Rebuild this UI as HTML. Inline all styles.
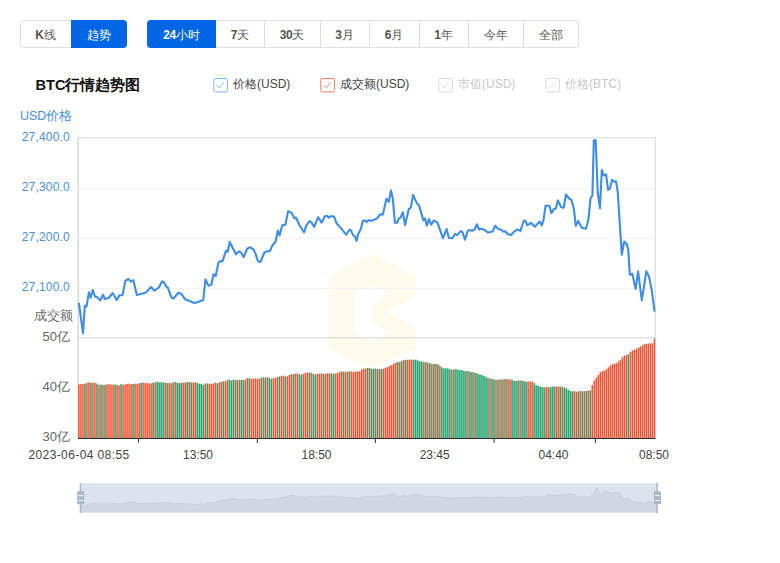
<!DOCTYPE html>
<html><head><meta charset="utf-8">
<style>
html,body{margin:0;padding:0;background:#fff;width:780px;height:563px;overflow:hidden;font-family:"Liberation Sans", sans-serif;}
.grp{position:absolute;top:20px;height:26px;border:1px solid #dcdfe6;border-radius:4px;box-sizing:content-box;}
.sep{position:absolute;top:21px;height:26px;width:1px;background:#dcdfe6;}
.btn{position:absolute;top:20px;height:28px;line-height:30px;text-align:center;font-size:12px;color:#555;font-weight:500;}
.btn b{font-weight:bold;letter-spacing:-0.4px;}
.btn.on{background:#0066e6;color:#fff;}
svg{position:absolute;left:0;top:0;}
</style></head><body>
<div class="grp" style="left:20px;width:105px;"></div>
<div class="grp" style="left:147px;width:430px;"></div>
<div class="sep" style="left:264px;"></div>
<div class="sep" style="left:320px;"></div>
<div class="sep" style="left:369px;"></div>
<div class="sep" style="left:419px;"></div>
<div class="sep" style="left:468px;"></div>
<div class="sep" style="left:523px;"></div>
<div class="btn on" style="left:71px;width:56px;border-radius:0 4px 4px 0;">趋势</div>
<div class="btn on" style="left:147px;width:69px;border-radius:4px 0 0 4px;"><b>24</b>小时</div>
<div class="btn" style="left:20px;width:51px;"><b>K</b>线</div>
<div class="btn" style="left:216px;width:48px;"><b>7</b>天</div>
<div class="btn" style="left:264px;width:56px;"><b>30</b>天</div>
<div class="btn" style="left:320px;width:49px;"><b>3</b>月</div>
<div class="btn" style="left:369px;width:50px;"><b>6</b>月</div>
<div class="btn" style="left:419px;width:49px;"><b>1</b>年</div>
<div class="btn" style="left:468px;width:55px;">今年</div>
<div class="btn" style="left:523px;width:56px;">全部</div>
<svg width="780" height="563" viewBox="0 0 780 563" style="font-family:"Liberation Sans", sans-serif;">
  <text x="35.5" y="90" font-size="14.6" font-weight="bold" fill="#111">BTC行情趋势图</text>
  <!-- legend -->
  <rect x="213.8" y="78.5" width="13.6" height="13.4" rx="1.5" fill="#fff" stroke="#7fb6ee"/>
  <path d="M216.5 85 L219.3 87.8 L223.8 82.5" fill="none" stroke="#7fb6ee" stroke-width="1"/>
  <text x="233" y="88" font-size="12" fill="#444">价格(USD)</text>
  <rect x="320.8" y="78.5" width="13.6" height="13.4" rx="1.5" fill="#fff" stroke="#f07d65"/>
  <path d="M323.5 85 L326.3 87.8 L330.8 82.5" fill="none" stroke="#f07d65" stroke-width="1"/>
  <text x="340" y="88" font-size="12" fill="#444">成交额(USD)</text>
  <rect x="438.8" y="78.5" width="13.6" height="13.4" rx="1.5" fill="#fff" stroke="#d9d9d9"/>
  <path d="M441.5 85 L444.3 87.8 L448.8 82.5" fill="none" stroke="#d9d9d9" stroke-width="1"/>
  <text x="458" y="88" font-size="12" fill="#c8c8c8">市值(USD)</text>
  <rect x="545.8" y="78.5" width="13.6" height="13.4" rx="1.5" fill="#fff" stroke="#d9d9d9"/>
  <path d="M548.5 85 L551.3 87.8 L555.8 82.5" fill="none" stroke="#d9d9d9" stroke-width="1"/>
  <text x="565" y="88" font-size="12" fill="#c8c8c8">价格(BTC)</text>

  <text x="20" y="120" font-size="12.5" fill="#4a90e2">USD价格</text>
  <g font-size="12" fill="#4a90e2" text-anchor="end" letter-spacing="0.2">
    <text x="70" y="141">27,400.0</text>
    <text x="70" y="191">27,300.0</text>
    <text x="70" y="241">27,200.0</text>
    <text x="70" y="291">27,100.0</text>
  </g>
  <text x="73" y="320" font-size="13" fill="#666" text-anchor="end">成交额</text>
  <g font-size="13" fill="#666" text-anchor="end">
    <text x="70" y="341">50亿</text>
    <text x="70" y="391">40亿</text>
    <text x="70" y="441">30亿</text>
  </g>
  <!-- watermark -->
  <polygon points="371.8,252.8 415.8,277.7 415.8,348.2 371.8,368 327.7,348.2 327.7,277.7" fill="#fefbec"/>
  <polygon points="354.3,293.4 371.3,284.2 389,293.4 372,304.1 372,321 389,332.5 371.3,341.5 354.3,332.5" fill="#fff"/>
  <polygon points="416.5,294.8 387,311.8 416.5,328.9" fill="#fff"/>
  <!-- grid -->
  <g stroke="#f2f2f2" stroke-width="1">
    <line x1="78" y1="188.5" x2="655" y2="188.5"/>
    <line x1="78" y1="238.5" x2="655" y2="238.5"/>
    <line x1="78" y1="288.5" x2="655" y2="288.5"/>
  </g>
  <line x1="78" y1="137.8" x2="656" y2="137.8" stroke="#e6e6e6" stroke-width="1.4"/>
  <line x1="655.3" y1="137" x2="655.3" y2="438" stroke="#e2e2e2" stroke-width="1.4"/>
  <line x1="78" y1="337.8" x2="655" y2="337.8" stroke="#e0e0e0" stroke-width="1.4"/>
  <line x1="78.2" y1="137" x2="78.2" y2="438" stroke="#d8d8d8" stroke-width="1.5"/>
  <rect x="78.15" y="384.39" width="1.56" height="53.61" fill="#f25535"/><rect x="80.16" y="383.98" width="1.56" height="54.02" fill="#f25535"/><rect x="82.16" y="383.85" width="1.56" height="54.15" fill="#f25535"/><rect x="84.17" y="383.67" width="1.56" height="54.33" fill="#22a46e"/><rect x="86.17" y="382.79" width="1.56" height="55.21" fill="#f25535"/><rect x="88.18" y="382.36" width="1.56" height="55.64" fill="#f25535"/><rect x="90.18" y="382.71" width="1.56" height="55.29" fill="#22a46e"/><rect x="92.19" y="382.90" width="1.56" height="55.10" fill="#f25535"/><rect x="94.19" y="382.84" width="1.56" height="55.16" fill="#f25535"/><rect x="96.20" y="383.59" width="1.56" height="54.41" fill="#22a46e"/><rect x="98.20" y="384.88" width="1.56" height="53.12" fill="#f25535"/><rect x="100.21" y="384.55" width="1.56" height="53.45" fill="#22a46e"/><rect x="102.21" y="384.90" width="1.56" height="53.10" fill="#f25535"/><rect x="104.22" y="384.71" width="1.56" height="53.29" fill="#22a46e"/><rect x="106.22" y="384.51" width="1.56" height="53.49" fill="#f25535"/><rect x="108.23" y="384.12" width="1.56" height="53.88" fill="#f25535"/><rect x="110.23" y="384.51" width="1.56" height="53.49" fill="#f25535"/><rect x="112.24" y="384.69" width="1.56" height="53.31" fill="#f25535"/><rect x="114.24" y="384.42" width="1.56" height="53.58" fill="#22a46e"/><rect x="116.25" y="384.98" width="1.56" height="53.02" fill="#f25535"/><rect x="118.25" y="385.24" width="1.56" height="52.76" fill="#f25535"/><rect x="120.26" y="384.20" width="1.56" height="53.80" fill="#22a46e"/><rect x="122.26" y="384.75" width="1.56" height="53.25" fill="#f25535"/><rect x="124.27" y="384.47" width="1.56" height="53.53" fill="#f25535"/><rect x="126.28" y="383.84" width="1.56" height="54.16" fill="#f25535"/><rect x="128.28" y="383.62" width="1.56" height="54.38" fill="#f25535"/><rect x="130.29" y="384.29" width="1.56" height="53.71" fill="#f25535"/><rect x="132.29" y="383.98" width="1.56" height="54.02" fill="#22a46e"/><rect x="134.30" y="383.66" width="1.56" height="54.34" fill="#f25535"/><rect x="136.30" y="383.81" width="1.56" height="54.19" fill="#f25535"/><rect x="138.31" y="383.28" width="1.56" height="54.72" fill="#f25535"/><rect x="140.31" y="382.94" width="1.56" height="55.06" fill="#22a46e"/><rect x="142.32" y="382.52" width="1.56" height="55.48" fill="#f25535"/><rect x="144.32" y="383.13" width="1.56" height="54.87" fill="#f25535"/><rect x="146.33" y="383.06" width="1.56" height="54.94" fill="#f25535"/><rect x="148.33" y="383.45" width="1.56" height="54.55" fill="#f25535"/><rect x="150.34" y="383.40" width="1.56" height="54.60" fill="#f25535"/><rect x="152.34" y="382.78" width="1.56" height="55.22" fill="#22a46e"/><rect x="154.35" y="382.33" width="1.56" height="55.67" fill="#f25535"/><rect x="156.35" y="381.59" width="1.56" height="56.41" fill="#22a46e"/><rect x="158.36" y="382.36" width="1.56" height="55.64" fill="#22a46e"/><rect x="160.36" y="382.25" width="1.56" height="55.75" fill="#22a46e"/><rect x="162.37" y="382.40" width="1.56" height="55.60" fill="#22a46e"/><rect x="164.37" y="382.63" width="1.56" height="55.37" fill="#f25535"/><rect x="166.38" y="383.11" width="1.56" height="54.89" fill="#22a46e"/><rect x="168.38" y="383.01" width="1.56" height="54.99" fill="#f25535"/><rect x="170.39" y="383.42" width="1.56" height="54.58" fill="#f25535"/><rect x="172.39" y="382.37" width="1.56" height="55.63" fill="#22a46e"/><rect x="174.40" y="381.87" width="1.56" height="56.13" fill="#f25535"/><rect x="176.41" y="382.77" width="1.56" height="55.23" fill="#22a46e"/><rect x="178.41" y="383.11" width="1.56" height="54.89" fill="#22a46e"/><rect x="180.42" y="382.99" width="1.56" height="55.01" fill="#22a46e"/><rect x="182.42" y="382.63" width="1.56" height="55.37" fill="#f25535"/><rect x="184.43" y="382.43" width="1.56" height="55.57" fill="#f25535"/><rect x="186.43" y="382.27" width="1.56" height="55.73" fill="#22a46e"/><rect x="188.44" y="382.02" width="1.56" height="55.98" fill="#f25535"/><rect x="190.44" y="382.50" width="1.56" height="55.50" fill="#22a46e"/><rect x="192.45" y="382.49" width="1.56" height="55.51" fill="#f25535"/><rect x="194.45" y="382.35" width="1.56" height="55.65" fill="#f25535"/><rect x="196.46" y="382.69" width="1.56" height="55.31" fill="#22a46e"/><rect x="198.46" y="383.65" width="1.56" height="54.35" fill="#22a46e"/><rect x="200.47" y="383.77" width="1.56" height="54.23" fill="#22a46e"/><rect x="202.47" y="384.73" width="1.56" height="53.27" fill="#22a46e"/><rect x="204.48" y="383.46" width="1.56" height="54.54" fill="#f25535"/><rect x="206.48" y="383.44" width="1.56" height="54.56" fill="#22a46e"/><rect x="208.49" y="383.66" width="1.56" height="54.34" fill="#f25535"/><rect x="210.49" y="383.78" width="1.56" height="54.22" fill="#f25535"/><rect x="212.50" y="383.56" width="1.56" height="54.44" fill="#f25535"/><rect x="214.50" y="382.76" width="1.56" height="55.24" fill="#f25535"/><rect x="216.51" y="383.25" width="1.56" height="54.75" fill="#22a46e"/><rect x="218.51" y="382.46" width="1.56" height="55.54" fill="#f25535"/><rect x="220.52" y="381.73" width="1.56" height="56.27" fill="#f25535"/><rect x="222.53" y="381.33" width="1.56" height="56.67" fill="#22a46e"/><rect x="224.53" y="381.17" width="1.56" height="56.83" fill="#f25535"/><rect x="226.54" y="380.05" width="1.56" height="57.95" fill="#f25535"/><rect x="228.54" y="379.50" width="1.56" height="58.50" fill="#22a46e"/><rect x="230.55" y="380.42" width="1.56" height="57.58" fill="#22a46e"/><rect x="232.55" y="379.59" width="1.56" height="58.41" fill="#22a46e"/><rect x="234.56" y="379.60" width="1.56" height="58.40" fill="#f25535"/><rect x="236.56" y="380.18" width="1.56" height="57.82" fill="#22a46e"/><rect x="238.57" y="379.84" width="1.56" height="58.16" fill="#f25535"/><rect x="240.57" y="379.93" width="1.56" height="58.07" fill="#22a46e"/><rect x="242.58" y="380.02" width="1.56" height="57.98" fill="#22a46e"/><rect x="244.58" y="379.64" width="1.56" height="58.36" fill="#f25535"/><rect x="246.59" y="378.08" width="1.56" height="59.92" fill="#f25535"/><rect x="248.59" y="378.13" width="1.56" height="59.87" fill="#22a46e"/><rect x="250.60" y="378.88" width="1.56" height="59.12" fill="#f25535"/><rect x="252.60" y="378.43" width="1.56" height="59.57" fill="#f25535"/><rect x="254.61" y="378.56" width="1.56" height="59.44" fill="#f25535"/><rect x="256.61" y="378.73" width="1.56" height="59.27" fill="#f25535"/><rect x="258.62" y="378.63" width="1.56" height="59.37" fill="#f25535"/><rect x="260.62" y="377.73" width="1.56" height="60.27" fill="#22a46e"/><rect x="262.63" y="377.24" width="1.56" height="60.76" fill="#f25535"/><rect x="264.63" y="377.58" width="1.56" height="60.42" fill="#22a46e"/><rect x="266.64" y="377.09" width="1.56" height="60.91" fill="#f25535"/><rect x="268.64" y="377.84" width="1.56" height="60.16" fill="#22a46e"/><rect x="270.65" y="378.69" width="1.56" height="59.31" fill="#22a46e"/><rect x="272.66" y="378.18" width="1.56" height="59.82" fill="#f25535"/><rect x="274.66" y="377.83" width="1.56" height="60.17" fill="#f25535"/><rect x="276.67" y="376.96" width="1.56" height="61.04" fill="#f25535"/><rect x="278.67" y="376.39" width="1.56" height="61.61" fill="#22a46e"/><rect x="280.68" y="375.96" width="1.56" height="62.04" fill="#f25535"/><rect x="282.68" y="375.56" width="1.56" height="62.44" fill="#f25535"/><rect x="284.69" y="376.41" width="1.56" height="61.59" fill="#22a46e"/><rect x="286.69" y="376.17" width="1.56" height="61.83" fill="#f25535"/><rect x="288.70" y="375.02" width="1.56" height="62.98" fill="#f25535"/><rect x="290.70" y="374.27" width="1.56" height="63.73" fill="#f25535"/><rect x="292.71" y="374.09" width="1.56" height="63.91" fill="#22a46e"/><rect x="294.71" y="373.55" width="1.56" height="64.45" fill="#f25535"/><rect x="296.72" y="373.44" width="1.56" height="64.56" fill="#f25535"/><rect x="298.72" y="374.44" width="1.56" height="63.56" fill="#22a46e"/><rect x="300.73" y="374.49" width="1.56" height="63.51" fill="#22a46e"/><rect x="302.73" y="373.83" width="1.56" height="64.17" fill="#f25535"/><rect x="304.74" y="372.73" width="1.56" height="65.27" fill="#f25535"/><rect x="306.74" y="372.49" width="1.56" height="65.51" fill="#f25535"/><rect x="308.75" y="372.71" width="1.56" height="65.29" fill="#22a46e"/><rect x="310.75" y="372.89" width="1.56" height="65.11" fill="#f25535"/><rect x="312.76" y="373.98" width="1.56" height="64.02" fill="#22a46e"/><rect x="314.76" y="374.60" width="1.56" height="63.40" fill="#22a46e"/><rect x="316.77" y="373.67" width="1.56" height="64.33" fill="#f25535"/><rect x="318.77" y="373.65" width="1.56" height="64.35" fill="#f25535"/><rect x="320.78" y="373.44" width="1.56" height="64.56" fill="#f25535"/><rect x="322.79" y="373.97" width="1.56" height="64.03" fill="#22a46e"/><rect x="324.79" y="373.61" width="1.56" height="64.39" fill="#f25535"/><rect x="326.80" y="373.36" width="1.56" height="64.64" fill="#f25535"/><rect x="328.80" y="373.49" width="1.56" height="64.51" fill="#f25535"/><rect x="330.81" y="373.38" width="1.56" height="64.62" fill="#22a46e"/><rect x="332.81" y="373.79" width="1.56" height="64.21" fill="#22a46e"/><rect x="334.82" y="373.51" width="1.56" height="64.49" fill="#f25535"/><rect x="336.82" y="373.00" width="1.56" height="65.00" fill="#f25535"/><rect x="338.83" y="371.92" width="1.56" height="66.08" fill="#f25535"/><rect x="340.83" y="371.57" width="1.56" height="66.43" fill="#f25535"/><rect x="342.84" y="371.66" width="1.56" height="66.34" fill="#22a46e"/><rect x="344.84" y="371.75" width="1.56" height="66.25" fill="#f25535"/><rect x="346.85" y="371.58" width="1.56" height="66.42" fill="#f25535"/><rect x="348.85" y="371.34" width="1.56" height="66.66" fill="#22a46e"/><rect x="350.86" y="371.63" width="1.56" height="66.37" fill="#f25535"/><rect x="352.86" y="372.04" width="1.56" height="65.96" fill="#f25535"/><rect x="354.87" y="371.58" width="1.56" height="66.42" fill="#f25535"/><rect x="356.87" y="371.33" width="1.56" height="66.67" fill="#f25535"/><rect x="358.88" y="371.34" width="1.56" height="66.66" fill="#f25535"/><rect x="360.88" y="369.53" width="1.56" height="68.47" fill="#f25535"/><rect x="362.89" y="368.72" width="1.56" height="69.28" fill="#f25535"/><rect x="364.89" y="368.50" width="1.56" height="69.50" fill="#f25535"/><rect x="366.90" y="368.03" width="1.56" height="69.97" fill="#22a46e"/><rect x="368.91" y="368.15" width="1.56" height="69.85" fill="#f25535"/><rect x="370.91" y="368.81" width="1.56" height="69.19" fill="#22a46e"/><rect x="372.92" y="368.54" width="1.56" height="69.46" fill="#22a46e"/><rect x="374.92" y="368.69" width="1.56" height="69.31" fill="#f25535"/><rect x="376.93" y="368.99" width="1.56" height="69.01" fill="#22a46e"/><rect x="378.93" y="369.26" width="1.56" height="68.74" fill="#f25535"/><rect x="380.94" y="368.85" width="1.56" height="69.15" fill="#22a46e"/><rect x="382.94" y="368.60" width="1.56" height="69.40" fill="#f25535"/><rect x="384.95" y="367.66" width="1.56" height="70.34" fill="#f25535"/><rect x="386.95" y="367.04" width="1.56" height="70.96" fill="#f25535"/><rect x="388.96" y="365.70" width="1.56" height="72.30" fill="#f25535"/><rect x="390.96" y="365.04" width="1.56" height="72.96" fill="#f25535"/><rect x="392.97" y="363.52" width="1.56" height="74.48" fill="#f25535"/><rect x="394.97" y="362.66" width="1.56" height="75.34" fill="#f25535"/><rect x="396.98" y="362.12" width="1.56" height="75.88" fill="#22a46e"/><rect x="398.98" y="361.84" width="1.56" height="76.16" fill="#f25535"/><rect x="400.99" y="360.90" width="1.56" height="77.10" fill="#22a46e"/><rect x="402.99" y="360.04" width="1.56" height="77.96" fill="#f25535"/><rect x="405.00" y="359.70" width="1.56" height="78.30" fill="#22a46e"/><rect x="407.00" y="360.02" width="1.56" height="77.98" fill="#f25535"/><rect x="409.01" y="359.51" width="1.56" height="78.49" fill="#f25535"/><rect x="411.01" y="359.65" width="1.56" height="78.35" fill="#f25535"/><rect x="413.02" y="359.69" width="1.56" height="78.31" fill="#22a46e"/><rect x="415.02" y="359.67" width="1.56" height="78.33" fill="#22a46e"/><rect x="417.03" y="360.43" width="1.56" height="77.57" fill="#22a46e"/><rect x="419.04" y="361.33" width="1.56" height="76.67" fill="#22a46e"/><rect x="421.04" y="361.50" width="1.56" height="76.50" fill="#22a46e"/><rect x="423.05" y="362.05" width="1.56" height="75.95" fill="#f25535"/><rect x="425.05" y="362.16" width="1.56" height="75.84" fill="#22a46e"/><rect x="427.06" y="362.53" width="1.56" height="75.47" fill="#f25535"/><rect x="429.06" y="363.22" width="1.56" height="74.78" fill="#22a46e"/><rect x="431.07" y="363.99" width="1.56" height="74.01" fill="#f25535"/><rect x="433.07" y="363.89" width="1.56" height="74.11" fill="#22a46e"/><rect x="435.08" y="364.08" width="1.56" height="73.92" fill="#f25535"/><rect x="437.08" y="364.26" width="1.56" height="73.74" fill="#22a46e"/><rect x="439.09" y="365.76" width="1.56" height="72.24" fill="#f25535"/><rect x="441.09" y="367.31" width="1.56" height="70.69" fill="#22a46e"/><rect x="443.10" y="368.39" width="1.56" height="69.61" fill="#22a46e"/><rect x="445.10" y="368.17" width="1.56" height="69.83" fill="#22a46e"/><rect x="447.11" y="368.36" width="1.56" height="69.64" fill="#22a46e"/><rect x="449.11" y="369.37" width="1.56" height="68.63" fill="#22a46e"/><rect x="451.12" y="369.37" width="1.56" height="68.63" fill="#f25535"/><rect x="453.12" y="369.51" width="1.56" height="68.49" fill="#22a46e"/><rect x="455.13" y="369.12" width="1.56" height="68.88" fill="#22a46e"/><rect x="457.13" y="369.73" width="1.56" height="68.27" fill="#22a46e"/><rect x="459.14" y="370.14" width="1.56" height="67.86" fill="#22a46e"/><rect x="461.14" y="370.01" width="1.56" height="67.99" fill="#22a46e"/><rect x="463.15" y="370.80" width="1.56" height="67.20" fill="#22a46e"/><rect x="465.16" y="371.22" width="1.56" height="66.78" fill="#22a46e"/><rect x="467.16" y="370.94" width="1.56" height="67.06" fill="#f25535"/><rect x="469.17" y="371.75" width="1.56" height="66.25" fill="#22a46e"/><rect x="471.17" y="371.98" width="1.56" height="66.02" fill="#22a46e"/><rect x="473.18" y="372.23" width="1.56" height="65.77" fill="#f25535"/><rect x="475.18" y="372.94" width="1.56" height="65.06" fill="#22a46e"/><rect x="477.19" y="373.73" width="1.56" height="64.27" fill="#22a46e"/><rect x="479.19" y="374.72" width="1.56" height="63.28" fill="#22a46e"/><rect x="481.20" y="374.99" width="1.56" height="63.01" fill="#22a46e"/><rect x="483.20" y="376.14" width="1.56" height="61.86" fill="#22a46e"/><rect x="485.21" y="376.75" width="1.56" height="61.25" fill="#22a46e"/><rect x="487.21" y="378.24" width="1.56" height="59.76" fill="#22a46e"/><rect x="489.22" y="378.34" width="1.56" height="59.66" fill="#f25535"/><rect x="491.22" y="378.80" width="1.56" height="59.20" fill="#22a46e"/><rect x="493.23" y="379.35" width="1.56" height="58.65" fill="#22a46e"/><rect x="495.23" y="379.98" width="1.56" height="58.02" fill="#f25535"/><rect x="497.24" y="379.76" width="1.56" height="58.24" fill="#22a46e"/><rect x="499.24" y="379.31" width="1.56" height="58.69" fill="#f25535"/><rect x="501.25" y="379.77" width="1.56" height="58.23" fill="#22a46e"/><rect x="503.25" y="379.01" width="1.56" height="58.99" fill="#f25535"/><rect x="505.26" y="378.98" width="1.56" height="59.02" fill="#22a46e"/><rect x="507.26" y="379.37" width="1.56" height="58.63" fill="#f25535"/><rect x="509.27" y="379.35" width="1.56" height="58.65" fill="#f25535"/><rect x="511.28" y="379.55" width="1.56" height="58.45" fill="#22a46e"/><rect x="513.28" y="380.82" width="1.56" height="57.18" fill="#22a46e"/><rect x="515.29" y="381.02" width="1.56" height="56.98" fill="#22a46e"/><rect x="517.29" y="380.62" width="1.56" height="57.38" fill="#22a46e"/><rect x="519.30" y="380.36" width="1.56" height="57.64" fill="#f25535"/><rect x="521.30" y="380.78" width="1.56" height="57.22" fill="#22a46e"/><rect x="523.31" y="380.97" width="1.56" height="57.03" fill="#22a46e"/><rect x="525.31" y="381.72" width="1.56" height="56.28" fill="#22a46e"/><rect x="527.32" y="381.58" width="1.56" height="56.42" fill="#f25535"/><rect x="529.32" y="381.46" width="1.56" height="56.54" fill="#f25535"/><rect x="531.33" y="381.36" width="1.56" height="56.64" fill="#f25535"/><rect x="533.33" y="382.86" width="1.56" height="55.14" fill="#22a46e"/><rect x="535.34" y="384.89" width="1.56" height="53.11" fill="#22a46e"/><rect x="537.34" y="385.97" width="1.56" height="52.03" fill="#22a46e"/><rect x="539.35" y="386.63" width="1.56" height="51.37" fill="#22a46e"/><rect x="541.35" y="387.01" width="1.56" height="50.99" fill="#22a46e"/><rect x="543.36" y="387.50" width="1.56" height="50.50" fill="#22a46e"/><rect x="545.36" y="386.90" width="1.56" height="51.10" fill="#f25535"/><rect x="547.37" y="387.24" width="1.56" height="50.76" fill="#f25535"/><rect x="549.37" y="387.28" width="1.56" height="50.72" fill="#22a46e"/><rect x="551.38" y="386.50" width="1.56" height="51.50" fill="#22a46e"/><rect x="553.38" y="386.54" width="1.56" height="51.46" fill="#22a46e"/><rect x="555.39" y="386.41" width="1.56" height="51.59" fill="#f25535"/><rect x="557.39" y="386.56" width="1.56" height="51.44" fill="#f25535"/><rect x="559.40" y="386.61" width="1.56" height="51.39" fill="#22a46e"/><rect x="561.41" y="386.78" width="1.56" height="51.22" fill="#f25535"/><rect x="563.41" y="387.43" width="1.56" height="50.57" fill="#22a46e"/><rect x="565.42" y="388.15" width="1.56" height="49.85" fill="#22a46e"/><rect x="567.42" y="389.48" width="1.56" height="48.52" fill="#22a46e"/><rect x="569.43" y="390.69" width="1.56" height="47.31" fill="#22a46e"/><rect x="571.43" y="391.34" width="1.56" height="46.66" fill="#22a46e"/><rect x="573.44" y="391.14" width="1.56" height="46.86" fill="#f25535"/><rect x="575.44" y="391.74" width="1.56" height="46.26" fill="#f25535"/><rect x="577.45" y="391.57" width="1.56" height="46.43" fill="#22a46e"/><rect x="579.45" y="390.88" width="1.56" height="47.12" fill="#f25535"/><rect x="581.46" y="391.27" width="1.56" height="46.73" fill="#22a46e"/><rect x="583.46" y="391.20" width="1.56" height="46.80" fill="#f25535"/><rect x="585.47" y="391.07" width="1.56" height="46.93" fill="#22a46e"/><rect x="587.47" y="390.60" width="1.56" height="47.40" fill="#f25535"/><rect x="589.48" y="390.33" width="1.56" height="47.67" fill="#22a46e"/><rect x="591.48" y="385.03" width="1.56" height="52.97" fill="#f25535"/><rect x="593.49" y="380.48" width="1.56" height="57.52" fill="#f25535"/><rect x="595.49" y="377.53" width="1.56" height="60.47" fill="#f25535"/><rect x="597.50" y="374.92" width="1.56" height="63.08" fill="#f25535"/><rect x="599.50" y="372.06" width="1.56" height="65.94" fill="#f25535"/><rect x="601.51" y="371.13" width="1.56" height="66.87" fill="#f25535"/><rect x="603.51" y="370.64" width="1.56" height="67.36" fill="#f25535"/><rect x="605.52" y="369.19" width="1.56" height="68.81" fill="#f25535"/><rect x="607.52" y="367.47" width="1.56" height="70.53" fill="#f25535"/><rect x="609.53" y="365.42" width="1.56" height="72.58" fill="#f25535"/><rect x="611.54" y="364.24" width="1.56" height="73.76" fill="#f25535"/><rect x="613.54" y="363.75" width="1.56" height="74.25" fill="#f25535"/><rect x="615.55" y="363.23" width="1.56" height="74.77" fill="#f25535"/><rect x="617.55" y="361.36" width="1.56" height="76.64" fill="#f25535"/><rect x="619.56" y="360.10" width="1.56" height="77.90" fill="#f25535"/><rect x="621.56" y="357.32" width="1.56" height="80.68" fill="#f25535"/><rect x="623.57" y="355.56" width="1.56" height="82.44" fill="#f25535"/><rect x="625.57" y="355.11" width="1.56" height="82.89" fill="#f25535"/><rect x="627.58" y="354.31" width="1.56" height="83.69" fill="#22a46e"/><rect x="629.58" y="352.09" width="1.56" height="85.91" fill="#f25535"/><rect x="631.59" y="350.49" width="1.56" height="87.51" fill="#f25535"/><rect x="633.59" y="349.73" width="1.56" height="88.27" fill="#f25535"/><rect x="635.60" y="348.75" width="1.56" height="89.25" fill="#f25535"/><rect x="637.60" y="347.71" width="1.56" height="90.29" fill="#f25535"/><rect x="639.61" y="346.46" width="1.56" height="91.54" fill="#f25535"/><rect x="641.61" y="345.31" width="1.56" height="92.69" fill="#f25535"/><rect x="643.62" y="344.20" width="1.56" height="93.80" fill="#f25535"/><rect x="645.62" y="343.86" width="1.56" height="94.14" fill="#f25535"/><rect x="647.63" y="343.46" width="1.56" height="94.54" fill="#f25535"/><rect x="649.63" y="343.55" width="1.56" height="94.45" fill="#f25535"/><rect x="651.64" y="343.35" width="1.56" height="94.65" fill="#f25535"/><rect x="653.64" y="338.50" width="1.56" height="99.50" fill="#f25535"/>
  <line x1="78" y1="438.5" x2="655.5" y2="438.5" stroke="#2a2a2a" stroke-width="1"/>
  <g stroke="#333" stroke-width="1">
    <line x1="138.5" y1="438" x2="138.5" y2="442.6"/>
    <line x1="257.3" y1="438" x2="257.3" y2="443"/>
    <line x1="375.4" y1="438" x2="375.4" y2="443"/>
    <line x1="494.1" y1="438" x2="494.1" y2="443"/>
    <line x1="595.4" y1="438" x2="595.4" y2="443"/>
  </g>
  <polyline points="78.9,303.0 83.0,333.3 84.8,305.7 86.5,306.6 88.9,292.4 90.6,297.7 92.8,290.0 94.9,296.5 97.2,297.2 100.2,300.4 103.0,294.7 104.8,299.0 108.7,298.0 112.7,293.0 116.7,300.0 119.4,295.4 122.6,295.0 125.3,280.9 128.3,279.0 131.0,281.7 133.3,280.0 136.8,295.0 142.5,293.6 146.0,292.4 151.0,287.0 154.4,290.7 158.9,287.5 162.1,281.3 163.9,282.2 166.3,286.6 167.8,287.5 171.3,297.3 173.4,298.5 178.4,292.8 181.1,293.7 185.5,299.6 189.1,300.8 194.4,303.0 198.0,302.0 203.3,300.0 205.4,279.5 208.6,285.7 211.3,284.8 213.6,274.2 215.7,276.0 218.4,262.6 221.0,260.9 222.5,261.4 226.0,250.6 227.7,251.8 229.8,241.9 233.0,248.6 236.0,254.3 239.2,251.3 241.3,253.0 243.7,257.1 247.2,248.6 249.9,247.2 253.4,249.5 255.6,253.9 257.9,261.0 260.5,262.0 264.1,253.0 266.7,251.3 269.8,251.3 272.1,246.0 275.6,241.5 277.9,230.5 279.7,235.3 282.2,225.2 285.4,224.6 288.1,211.3 291.6,212.7 294.3,218.4 296.0,217.5 299.6,225.5 304.0,232.3 306.4,225.2 309.7,221.2 311.4,222.3 314.2,226.9 318.2,217.2 321.6,222.6 324.9,216.2 327.0,215.8 328.4,217.6 330.5,216.2 334.1,216.6 336.6,223.3 340.5,227.6 346.2,234.7 349.4,229.7 350.9,230.4 353.3,235.4 354.7,236.1 356.5,240.8 358.2,234.0 360.8,229.0 362.8,220.9 365.3,220.5 366.8,221.9 368.9,220.0 371.0,220.9 373.9,219.8 376.7,218.6 377.1,218.3 380.0,214.3 382.8,214.7 386.4,198.7 388.8,202.0 390.9,190.6 392.8,198.4 394.9,222.8 397.0,222.8 399.1,218.3 400.6,217.6 402.7,212.3 405.1,225.1 408.8,209.1 410.8,207.6 413.1,194.9 416.9,203.4 419.0,205.2 423.3,220.4 425.0,218.3 426.8,225.7 429.0,219.0 431.1,224.7 434.0,220.4 437.5,222.6 442.9,238.2 446.7,229.0 448.9,237.9 452.4,238.2 455.0,234.0 457.1,235.1 460.7,231.1 462.5,232.3 464.9,239.7 467.8,230.9 469.9,230.0 472.0,230.9 474.9,229.0 477.0,224.3 479.1,229.7 481.3,228.6 484.8,230.0 488.1,232.6 492.6,231.4 495.2,225.7 498.3,229.0 501.1,229.7 503.7,231.8 505.1,231.1 507.5,234.0 511.1,235.1 513.9,231.8 517.5,229.4 520.3,230.9 523.9,220.5 525.6,221.2 527.3,225.4 530.9,222.8 534.8,226.7 539.7,221.5 541.6,225.4 543.6,219.9 545.5,205.8 549.4,205.8 551.4,213.1 553.9,209.1 555.9,208.6 557.8,200.4 561.2,207.2 563.7,207.8 566.0,194.5 569.0,198.4 571.5,200.0 573.9,209.1 575.8,225.8 578.2,220.9 581.7,227.7 586.0,228.7 588.5,218.9 590.5,198.4 592.4,195.5 593.8,140.2 595.7,140.2 597.7,192.5 600.0,208.1 601.8,170.0 603.8,175.4 606.1,174.5 608.1,189.9 609.9,188.4 612.1,179.9 614.2,181.6 616.1,181.3 617.8,192.7 620.2,230.0 621.8,254.8 624.2,241.5 626.6,243.6 628.2,249.2 629.8,274.8 632.2,273.5 635.7,288.9 638.1,271.3 641.8,300.4 646.3,271.3 649.0,276.4 651.7,290.0 654.6,311.6" fill="none" stroke="#3f8de6" stroke-width="2.1" stroke-linejoin="round"/>
  <g font-size="12" fill="#444" text-anchor="middle">
    <text x="79" y="459" letter-spacing="0.4">2023-06-04 08:55</text>
    <text x="198" y="459">13:50</text>
    <text x="316.5" y="459">18:50</text>
    <text x="434.7" y="459">23:45</text>
    <text x="553.5" y="459">04:40</text>
    <text x="654" y="459">08:50</text>
  </g>
  <!-- slider -->
  <rect x="80" y="483" width="577" height="29.5" fill="#dde3ec"/>
  <polygon points="80,512.5 80.9,504.5 85.0,507.4 86.8,504.7 88.5,504.8 90.9,503.4 92.6,503.9 94.8,503.2 96.9,503.8 99.2,503.9 102.2,504.2 105.0,503.6 106.8,504.1 110.7,504.0 114.7,503.5 118.7,504.2 121.4,503.7 124.6,503.7 127.3,502.3 130.3,502.1 133.0,502.4 135.3,502.2 138.8,503.7 144.5,503.5 148.0,503.4 153.0,502.9 156.4,503.3 160.9,502.9 164.1,502.3 165.9,502.4 168.3,502.9 169.8,502.9 173.3,503.9 175.4,504.0 180.4,503.5 183.1,503.5 187.5,504.1 191.1,504.2 196.4,504.5 200.0,504.4 205.3,504.2 207.4,502.2 210.6,502.8 213.3,502.7 215.6,501.6 217.7,501.8 220.4,500.5 223.0,500.3 224.5,500.4 228.0,499.3 229.7,499.4 231.8,498.5 235.0,499.1 238.0,499.7 241.2,499.4 243.3,499.6 245.7,500.0 249.2,499.1 251.9,499.0 255.4,499.2 257.6,499.7 259.9,500.3 262.5,500.4 266.1,499.6 268.7,499.4 271.8,499.4 274.1,498.9 277.6,498.4 279.9,497.4 281.7,497.8 284.2,496.8 287.4,496.8 290.1,495.5 293.6,495.6 296.3,496.2 298.0,496.1 301.6,496.9 306.0,497.5 308.4,496.8 311.7,496.4 313.4,496.6 316.2,497.0 320.2,496.1 323.6,496.6 326.9,496.0 329.0,495.9 330.4,496.1 332.5,496.0 336.1,496.0 338.6,496.7 342.5,497.1 348.2,497.8 351.4,497.3 352.9,497.4 355.3,497.8 356.7,497.9 358.5,498.4 360.2,497.7 362.8,497.2 364.8,496.4 367.3,496.4 368.8,496.5 370.9,496.3 373.0,496.4 375.9,496.3 378.7,496.2 379.1,496.2 382.0,495.8 384.8,495.8 388.4,494.2 390.8,494.6 392.9,493.5 394.8,494.2 396.9,496.6 399.0,496.6 401.1,496.2 402.6,496.1 404.7,495.6 407.1,496.8 410.8,495.3 412.8,495.1 415.1,493.9 418.9,494.7 421.0,494.9 425.3,496.4 427.0,496.2 428.8,496.9 431.0,496.2 433.1,496.8 436.0,496.4 439.5,496.6 444.9,498.1 448.7,497.2 450.9,498.1 454.4,498.1 457.0,497.7 459.1,497.8 462.7,497.4 464.5,497.5 466.9,498.3 469.8,497.4 471.9,497.3 474.0,497.4 476.9,497.2 479.0,496.8 481.1,497.3 483.3,497.2 486.8,497.3 490.1,497.6 494.6,497.4 497.2,496.9 500.3,497.2 503.1,497.3 505.7,497.5 507.1,497.4 509.5,497.7 513.1,497.8 515.9,497.5 519.5,497.3 522.3,497.4 525.9,496.4 527.6,496.4 529.3,496.9 532.9,496.6 536.8,497.0 541.7,496.5 543.6,496.9 545.6,496.3 547.5,494.9 551.4,494.9 553.4,495.7 555.9,495.3 557.9,495.2 559.8,494.4 563.2,495.1 565.7,495.1 568.0,493.8 571.0,494.2 573.5,494.4 575.9,495.3 577.8,496.9 580.2,496.4 583.7,497.1 588.0,497.2 590.5,496.2 592.5,494.2 594.4,493.9 595.8,488.5 597.7,488.5 599.7,493.6 602.0,495.2 603.8,491.4 605.8,492.0 608.1,491.9 610.1,493.4 611.9,493.2 614.1,492.4 616.2,492.6 618.1,492.5 619.8,493.7 622.2,497.3 623.8,499.7 626.2,498.4 628.6,498.6 630.2,499.2 631.8,501.7 634.2,501.6 637.7,503.1 640.1,501.4 643.8,504.2 648.3,501.4 651.0,501.9 653.7,503.2 656.6,505.3 657,512.5" fill="#d0d7e1"/>
  <polyline points="80.9,504.5 85.0,507.4 86.8,504.7 88.5,504.8 90.9,503.4 92.6,503.9 94.8,503.2 96.9,503.8 99.2,503.9 102.2,504.2 105.0,503.6 106.8,504.1 110.7,504.0 114.7,503.5 118.7,504.2 121.4,503.7 124.6,503.7 127.3,502.3 130.3,502.1 133.0,502.4 135.3,502.2 138.8,503.7 144.5,503.5 148.0,503.4 153.0,502.9 156.4,503.3 160.9,502.9 164.1,502.3 165.9,502.4 168.3,502.9 169.8,502.9 173.3,503.9 175.4,504.0 180.4,503.5 183.1,503.5 187.5,504.1 191.1,504.2 196.4,504.5 200.0,504.4 205.3,504.2 207.4,502.2 210.6,502.8 213.3,502.7 215.6,501.6 217.7,501.8 220.4,500.5 223.0,500.3 224.5,500.4 228.0,499.3 229.7,499.4 231.8,498.5 235.0,499.1 238.0,499.7 241.2,499.4 243.3,499.6 245.7,500.0 249.2,499.1 251.9,499.0 255.4,499.2 257.6,499.7 259.9,500.3 262.5,500.4 266.1,499.6 268.7,499.4 271.8,499.4 274.1,498.9 277.6,498.4 279.9,497.4 281.7,497.8 284.2,496.8 287.4,496.8 290.1,495.5 293.6,495.6 296.3,496.2 298.0,496.1 301.6,496.9 306.0,497.5 308.4,496.8 311.7,496.4 313.4,496.6 316.2,497.0 320.2,496.1 323.6,496.6 326.9,496.0 329.0,495.9 330.4,496.1 332.5,496.0 336.1,496.0 338.6,496.7 342.5,497.1 348.2,497.8 351.4,497.3 352.9,497.4 355.3,497.8 356.7,497.9 358.5,498.4 360.2,497.7 362.8,497.2 364.8,496.4 367.3,496.4 368.8,496.5 370.9,496.3 373.0,496.4 375.9,496.3 378.7,496.2 379.1,496.2 382.0,495.8 384.8,495.8 388.4,494.2 390.8,494.6 392.9,493.5 394.8,494.2 396.9,496.6 399.0,496.6 401.1,496.2 402.6,496.1 404.7,495.6 407.1,496.8 410.8,495.3 412.8,495.1 415.1,493.9 418.9,494.7 421.0,494.9 425.3,496.4 427.0,496.2 428.8,496.9 431.0,496.2 433.1,496.8 436.0,496.4 439.5,496.6 444.9,498.1 448.7,497.2 450.9,498.1 454.4,498.1 457.0,497.7 459.1,497.8 462.7,497.4 464.5,497.5 466.9,498.3 469.8,497.4 471.9,497.3 474.0,497.4 476.9,497.2 479.0,496.8 481.1,497.3 483.3,497.2 486.8,497.3 490.1,497.6 494.6,497.4 497.2,496.9 500.3,497.2 503.1,497.3 505.7,497.5 507.1,497.4 509.5,497.7 513.1,497.8 515.9,497.5 519.5,497.3 522.3,497.4 525.9,496.4 527.6,496.4 529.3,496.9 532.9,496.6 536.8,497.0 541.7,496.5 543.6,496.9 545.6,496.3 547.5,494.9 551.4,494.9 553.4,495.7 555.9,495.3 557.9,495.2 559.8,494.4 563.2,495.1 565.7,495.1 568.0,493.8 571.0,494.2 573.5,494.4 575.9,495.3 577.8,496.9 580.2,496.4 583.7,497.1 588.0,497.2 590.5,496.2 592.5,494.2 594.4,493.9 595.8,488.5 597.7,488.5 599.7,493.6 602.0,495.2 603.8,491.4 605.8,492.0 608.1,491.9 610.1,493.4 611.9,493.2 614.1,492.4 616.2,492.6 618.1,492.5 619.8,493.7 622.2,497.3 623.8,499.7 626.2,498.4 628.6,498.6 630.2,499.2 631.8,501.7 634.2,501.6 637.7,503.1 640.1,501.4 643.8,504.2 648.3,501.4 651.0,501.9 653.7,503.2 656.6,505.3" fill="none" stroke="#c3ccd8" stroke-width="0.8"/>
  <line x1="80.5" y1="483" x2="80.5" y2="513" stroke="#a7b7cc" stroke-width="1.5"/>
  <line x1="657" y1="483" x2="657" y2="513" stroke="#a7b7cc" stroke-width="1.5"/>
  <rect x="77.2" y="491.3" width="7" height="13" rx="1" fill="#a7b7cc"/>
  <rect x="654" y="491.3" width="7" height="13" rx="1" fill="#a7b7cc"/>
  <g stroke="#fff" stroke-width="1">
    <line x1="78.5" y1="495.6" x2="83" y2="495.6"/>
    <line x1="78.5" y1="500.6" x2="83" y2="500.6"/>
    <line x1="655.3" y1="495.6" x2="659.8" y2="495.6"/>
    <line x1="655.3" y1="500.6" x2="659.8" y2="500.6"/>
  </g>
</svg>
</body></html>
